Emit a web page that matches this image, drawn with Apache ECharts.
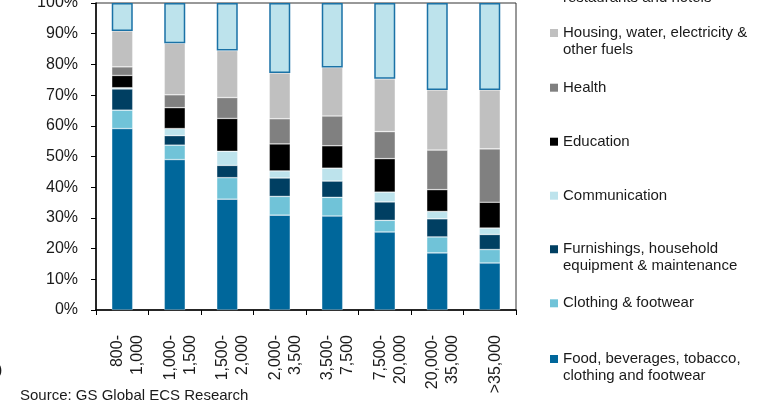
<!DOCTYPE html>
<html>
<head>
<meta charset="utf-8">
<script src="https://cdn.jsdelivr.net/npm/echarts@6/dist/echarts.min.js"></script>
<style>
  html, body { margin: 0; padding: 0; background: #fff; }
  #chart { width: 774px; height: 410px; }
</style>
</head>
<body>
<div id="chart"></div>
<script>
// income bands (x axis)
var categories = ['800-\n1,000', '1,000-\n1,500', '1,500-\n2,000', '2,000-\n3,500', '3,500-\n7,500', '7,500-\n20,000', '20,000-\n35,000', '>35,000']

// share of spending, % (bottom to top of each bar)
var food = [59.1, 49.0, 36.1, 30.9, 30.6, 25.4, 18.6, 15.3]
var clothing = [6.0, 4.7, 7.0, 6.1, 6.1, 3.8, 5.2, 4.4]
var furnishings = [6.9, 3.1, 4.0, 6.0, 5.3, 6.0, 5.9, 4.9]
var communication = [0.4, 2.3, 4.6, 2.3, 4.2, 3.2, 2.4, 2.1]
var education = [4.0, 6.8, 10.7, 8.8, 7.3, 10.9, 7.1, 8.4]
var health = [2.8, 4.2, 6.8, 8.2, 9.7, 8.8, 12.9, 17.4]
var housing = [11.7, 16.8, 15.3, 14.9, 15.8, 17.2, 19.6, 19.2]
var restaurants = [9.1, 13.1, 15.5, 22.8, 21.0, 24.7, 28.3, 28.3]

var yTicks = [0, 10, 20, 30, 40, 50, 60, 70, 80, 90, 100]

var FONT = '"Liberation Sans", Arial, sans-serif'

var seriesDefs = [
  { name: 'Food, beverages, tobacco,\nclothing and footwear', data: food, color: '#00679B', legendTop: 359 },
  { name: 'Clothing & footwear', data: clothing, color: '#70C3D8', legendTop: 303.3 },
  { name: 'Furnishings, household\nequipment & maintenance', data: furnishings, color: '#003F62', legendTop: 249.3 },
  { name: 'Communication', data: communication, color: '#BDE3EC', legendTop: 195.7 },
  { name: 'Education', data: education, color: '#000000', legendTop: 141.7 },
  { name: 'Health', data: health, color: '#808080', legendTop: 87.7 },
  { name: 'Housing, water, electricity &\nother fuels', data: housing, color: '#C0C0C0', legendTop: 33 },
  { name: 'Recreation, culture,\nrestaurants and hotels', data: restaurants, color: '#BDE3EC', legendTop: -19.5, border: '#1A72A6' }
]

var chart = echarts.init(document.getElementById('chart'))

var series = seriesDefs.map(function (d) {
  return {
    name: d.name,
    type: 'bar',
    stack: 'total',
    barWidth: 21,
    data: d.data,
    itemStyle: {
      color: d.color,
      borderColor: d.border || 'rgba(255,255,255,0.55)',
      borderWidth: d.border ? 1.5 : 0.6
    }
  }
})

// one legend per entry so the uneven excel-style spacing can be kept.
// two-line entries get a taller icon whose square sits at the top,
// so the marker lines up with the first text line
var legends = seriesDefs.map(function (d) {
  var twoLines = d.name.indexOf('\n') >= 0
  return {
    data: [{ name: d.name, itemStyle: { color: d.color, borderWidth: 0 } }],
    orient: 'vertical',
    left: 550,
    top: d.legendTop - 8.5,
    padding: 0,
    itemWidth: 8,
    itemHeight: twoLines ? 25 : 8,
    icon: twoLines ? 'path://M0,0h8v8h-8z M0,24.95h0.05v0.05h-0.05z' : 'rect',
    symbolKeepAspect: false,
    selectedMode: false,
    textStyle: {
      fontFamily: FONT,
      fontSize: 15,
      lineHeight: 17,
      color: '#1a1a1a'
    }
  }
})

var option = {
  animation: false,
  backgroundColor: '#fff',
  grid: {
    left: 96,
    right: 258,
    top: 3,
    bottom: 100,
    outerBoundsMode: 'none',
    show: true,
    borderColor: '#333',
    borderWidth: 1
  },
  legend: legends,
  xAxis: {
    type: 'category',
    data: categories,
    axisLine: { lineStyle: { color: '#000', width: 1.5 } },
    axisTick: { show: true, length: 5, lineStyle: { color: '#000', width: 1 } },
    axisLabel: {
      interval: 0,
      rotate: 90,
      margin: 25,
      fontFamily: FONT,
      fontSize: 16,
      lineHeight: 20,
      color: '#1a1a1a',
      // a thin blank first line nudges the rotated text a little to the right
      formatter: function (value) {
        return '{gap| }\n' + value
      },
      rich: {
        gap: { fontSize: 1, lineHeight: 11, height: 11 }
      }
    }
  },
  yAxis: {
    type: 'value',
    min: yTicks[0],
    max: yTicks[yTicks.length - 1],
    interval: 10,
    splitLine: { show: false },
    axisLine: { show: true, lineStyle: { color: '#000', width: 1.5 } },
    axisTick: { show: true, length: 5, lineStyle: { color: '#000' } },
    axisLabel: {
      formatter: '{value}%',
      margin: 18,
      fontFamily: FONT,
      fontSize: 16,
      color: '#1a1a1a'
    }
  },
  graphic: [
    {
      type: 'text',
      left: 20,
      top: 388,
      style: { text: 'Source: GS Global ECS Research', font: '15px ' + FONT, fill: '#1a1a1a' }
    },
    {
      type: 'text',
      left: -3,
      top: 363,
      style: { text: ')', font: '16px ' + FONT, fill: '#1a1a1a' }
    }
  ],
  series: series
}

chart.setOption(option)
</script>
</body>
</html>
